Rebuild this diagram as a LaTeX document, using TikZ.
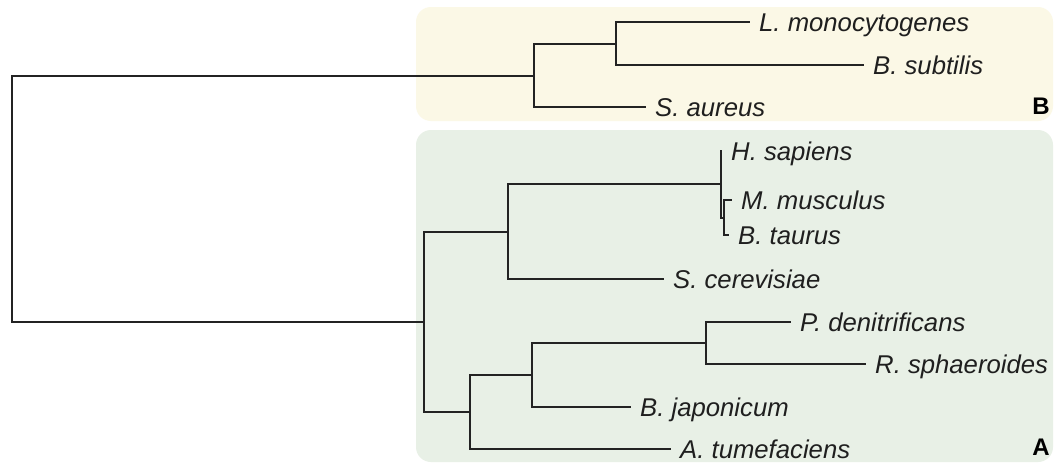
\documentclass[tikz,border=0pt]{standalone}
\usepackage{fontspec}
\setmainfont{Liberation Sans}
\definecolor{cladeB}{RGB}{251,248,230}
\definecolor{cladeA}{RGB}{232,240,230}
\definecolor{branch}{RGB}{35,35,35}
\tikzset{
  branchline/.style={draw=branch, line width=2pt, line cap=rect},
  taxon/.style={anchor=west, inner xsep=10pt, inner ysep=0pt,
    text height=18.4pt, text depth=0pt,
    font=\fontsize{25.7}{30}\selectfont\itshape, text=black!88},
  cladelabel/.style={anchor=east, inner sep=0pt, text height=17pt, text depth=0pt,
    font=\fontsize{24}{28}\selectfont\bfseries},
  cladebox/.style={rounded corners=15pt, draw=none}
}
\begin{document}
\begin{tikzpicture}[x=1pt,y=-1pt]
\useasboundingbox (0,0) rectangle (1057,463);
\fill[white] (0,0) rectangle (1057,463);

% clade backgrounds
\fill[cladeB, cladebox] (416,7) rectangle (1053,121);
\fill[cladeA, cladebox] (416,130) rectangle (1053,462);
\node[cladelabel] (labB) at (1050,106) {B};
\node[cladelabel] (labA) at (1050,447) {A};

% leaves
\node[taxon] (lmon) at (749,22)  {L. monocytogenes};
\node[taxon] (bsub) at (863,65)  {B. subtilis};
\node[taxon] (saur) at (645,107) {S. aureus};
\node[taxon] (hsap) at (721,151) {H. sapiens};
\node[taxon] (mmus) at (731,200) {M. musculus};
\node[taxon] (btau) at (728,235) {B. taurus};
\node[taxon] (scer) at (663,279) {S. cerevisiae};
\node[taxon] (pden) at (790,322) {P. denitrificans};
\node[taxon] (rsph) at (865,364) {R. sphaeroides};
\node[taxon] (bjap) at (630,407) {B. japonicum};
\node[taxon] (atum) at (670,449) {A. tumefaciens};

% internal nodes
\coordinate (nBi)    at (616,44);
\coordinate (nB)     at (534,76);
\coordinate (nMB)    at (724,218);
\coordinate (nMam)   at (721,184);
\coordinate (nEuk)   at (508,232);
\coordinate (nRhodo) at (706,343);
\coordinate (nRhizo) at (532,375);
\coordinate (nAlpha) at (470,412);
\coordinate (nA)     at (424,322);
\coordinate (root)   at (12,199);

% branches
\draw[branchline] (root) |- (nB);
\draw[branchline] (root) |- (nA);
\draw[branchline] (nB) |- (nBi);
\draw[branchline] (nB) |- (saur.west);
\draw[branchline] (nBi) |- (lmon.west);
\draw[branchline] (nBi) |- (bsub.west);
\draw[branchline] (nA) |- (nEuk);
\draw[branchline] (nA) |- (nAlpha);
\draw[branchline] (nEuk) |- (nMam);
\draw[branchline] (nEuk) |- (scer.west);
\draw[branchline] (nMam) |- (hsap.west);
\draw[branchline] (nMam) |- (nMB);
\draw[branchline] (nMB) |- (mmus.west);
\draw[branchline] (nMB) |- (btau.west);
\draw[branchline] (nAlpha) |- (nRhizo);
\draw[branchline] (nAlpha) |- (atum.west);
\draw[branchline] (nRhizo) |- (nRhodo);
\draw[branchline] (nRhizo) |- (bjap.west);
\draw[branchline] (nRhodo) |- (pden.west);
\draw[branchline] (nRhodo) |- (rsph.west);
\end{tikzpicture}
\end{document}
